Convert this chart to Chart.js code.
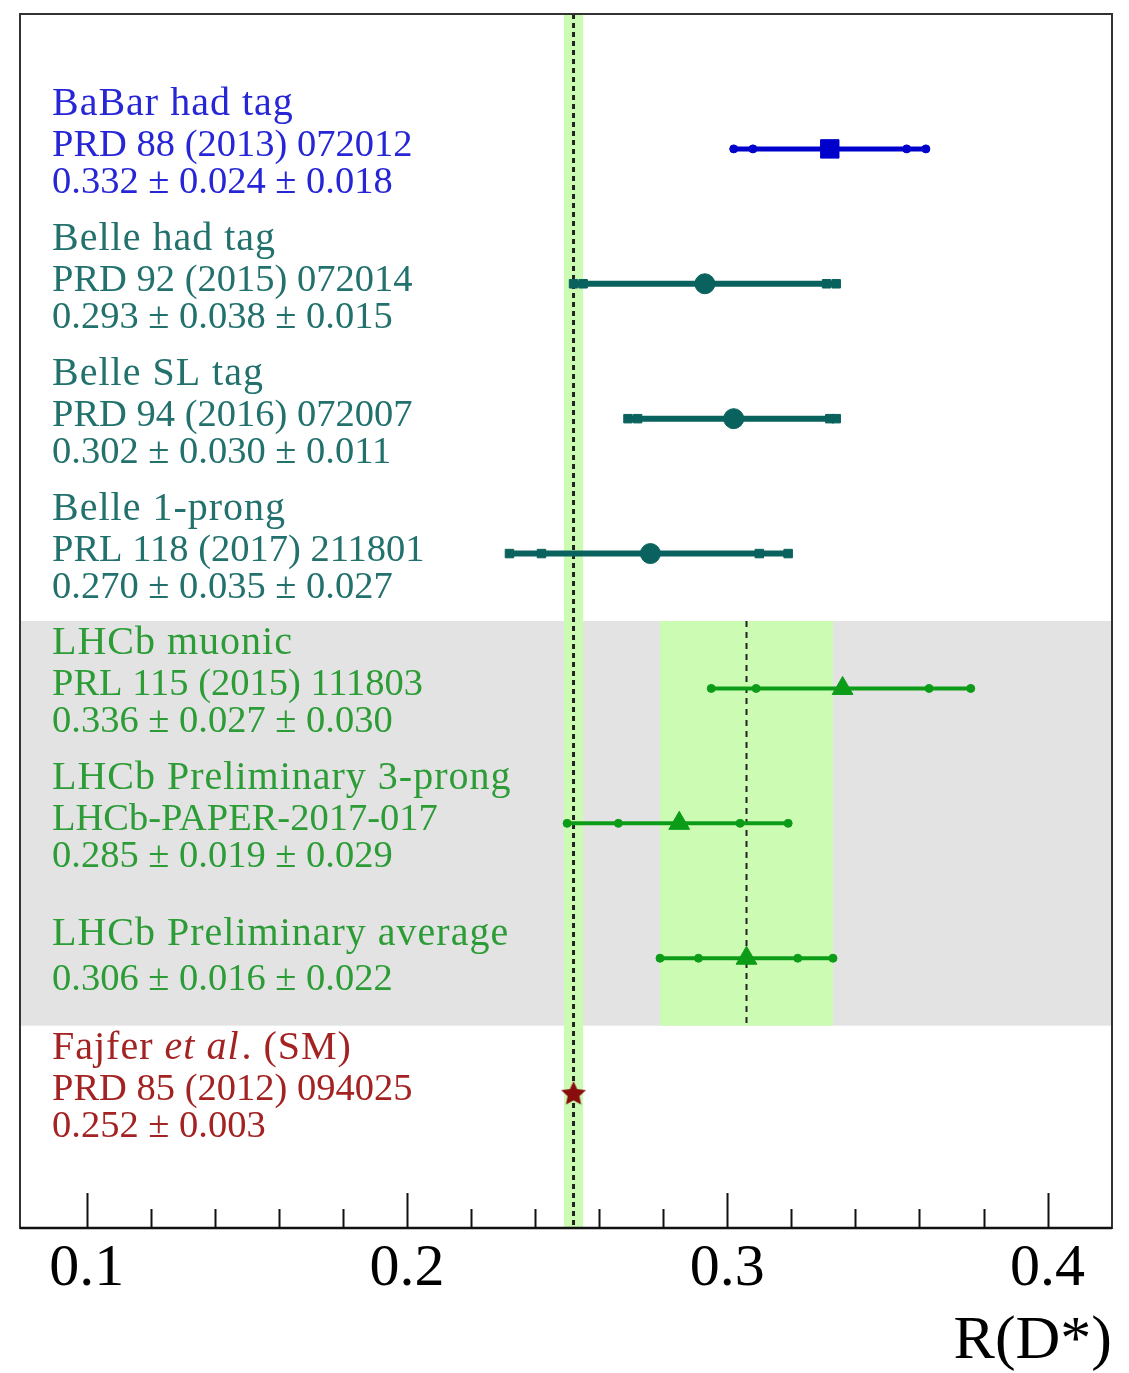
<!DOCTYPE html>
<html>
<head>
<meta charset="utf-8">
<script src="https://cdn.jsdelivr.net/npm/chart.js@4.4.1/dist/chart.umd.min.js"></script>
<style>
  html, body { margin: 0; padding: 0; background: #fff; }
  canvas { display: block; }
</style>
</head>
<body>
<canvas id="rdstarChart" width="1129" height="1373"></canvas>
<script>
// --- data (rows top to bottom) ---
const titles = ['BaBar had tag', 'Belle had tag', 'Belle SL tag', 'Belle 1-prong',
  'LHCb muonic', 'LHCb Preliminary 3-prong', 'LHCb Preliminary average', 'Fajfer et al. (SM)'];
const refs = ['PRD 88 (2013) 072012', 'PRD 92 (2015) 072014', 'PRD 94 (2016) 072007',
  'PRL 118 (2017) 211801', 'PRL 115 (2015) 111803', 'LHCb-PAPER-2017-017', '', 'PRD 85 (2012) 094025'];
const results = ['0.332 ± 0.024 ± 0.018', '0.293 ± 0.038 ± 0.015', '0.302 ± 0.030 ± 0.011',
  '0.270 ± 0.035 ± 0.027', '0.336 ± 0.027 ± 0.030', '0.285 ± 0.019 ± 0.029',
  '0.306 ± 0.016 ± 0.022', '0.252 ± 0.003'];
const rowY = [8, 7, 6, 5, 4, 3, 2, 1];

// plotted central value, statistical and total error bar ends
const central = [0.332, 0.293, 0.302, 0.276, 0.336, 0.285, 0.306, 0.252];
const statLow = [0.308, 0.255, 0.272, 0.242, 0.309, 0.266, 0.291, null];
const statHigh = [0.356, 0.331, 0.332, 0.310, 0.363, 0.304, 0.322, null];
const totLow = [0.302, 0.252, 0.269, 0.232, 0.295, 0.250, 0.279, null];
const totHigh = [0.362, 0.334, 0.334, 0.319, 0.376, 0.319, 0.333, null];

// SM prediction band and LHCb average band
const smValue = 0.252;
const smBand = [0.249, 0.255];
const lhcbAvg = 0.306;
const lhcbBand = [0.279, 0.333];
const lhcbRows = [1.5, 4.5];

const majorTicks = [0.1, 0.2, 0.3, 0.4];
const minorTicks = [0.12, 0.14, 0.16, 0.18, 0.22, 0.24, 0.26, 0.28, 0.32, 0.34, 0.36, 0.38];

// --- style ---
const SERIF = "'Liberation Serif', 'Times New Roman', serif";
const lineColor = ['#0000cc', '#0a625e', '#0a625e', '#0a625e', '#0c9c18', '#0c9c18', '#0c9c18', '#8a0d0d'];
const textColor = ['#2626d6', '#22716d', '#22716d', '#22716d', '#2c9c36', '#2c9c36', '#2c9c36', '#a32222'];
const lineWidth = [5, 6, 6, 6, 4, 4, 4, 0];
const markerStyle = ['rect', 'circle', 'circle', 'circle', 'triangle', 'triangle', 'triangle', null];
const markerRadius = [13, 10, 10, 10, 12, 12, 12, 0];
const endStyle = ['circle', 'rect', 'rect', 'rect', 'circle', 'circle', 'circle', null];
const endRadius = [4, 6, 6, 6, 4, 4, 4, 0];

function makeStar(size, color) {
    const c = document.createElement('canvas');
    c.width = size; c.height = size;
    const g = c.getContext('2d');
    g.fillStyle = color;
    g.beginPath();
    for (let k = 0; k < 10; k++) {
        const r = k % 2 ? size * 0.24 : size * 0.5;
        const a = -Math.PI / 2 + k * Math.PI / 5;
        g.lineTo(size / 2 + r * Math.cos(a), size / 2 + 1 + r * Math.sin(a));
    }
    g.closePath();
    g.fill();
    return c;
}

// build one dataset per row
const datasets = central.map(function(c, i) {
    if (statLow[i] === null) {
        return {
            data: [{ x: c, y: rowY[i] }],
            pointStyle: makeStar(26, lineColor[i]),
            pointRadius: 13,
            showLine: false
        };
    }
    const xs = [totLow[i], statLow[i], c, statHigh[i], totHigh[i]];
    return {
        data: xs.map(x => ({ x: x, y: rowY[i] })),
        showLine: true,
        borderColor: lineColor[i],
        borderWidth: lineWidth[i],
        backgroundColor: lineColor[i],
        pointBackgroundColor: lineColor[i],
        pointBorderColor: lineColor[i],
        pointBorderWidth: 1,
        pointStyle: [endStyle[i], endStyle[i], markerStyle[i], endStyle[i], endStyle[i]],
        pointRadius: [endRadius[i], endRadius[i], markerRadius[i], endRadius[i], endRadius[i]]
    };
});

// bands and dashed reference lines behind the points
const bandsPlugin = {
    id: 'bands',
    beforeDatasetsDraw(chart) {
        const { ctx, chartArea: a, scales: { x, y } } = chart;
        const yTop = y.getPixelForValue(lhcbRows[1]);
        const yBot = y.getPixelForValue(lhcbRows[0]);
        ctx.save();
        ctx.fillStyle = '#e3e3e3';
        ctx.fillRect(a.left, yTop, a.right - a.left, yBot - yTop);
        ctx.fillStyle = '#ccfcb4';
        ctx.fillRect(x.getPixelForValue(lhcbBand[0]), yTop,
            x.getPixelForValue(lhcbBand[1]) - x.getPixelForValue(lhcbBand[0]), yBot - yTop);
        ctx.fillRect(x.getPixelForValue(smBand[0]), a.top,
            x.getPixelForValue(smBand[1]) - x.getPixelForValue(smBand[0]), a.bottom - a.top);

        ctx.strokeStyle = '#222';
        ctx.lineWidth = 3;
        ctx.setLineDash([5, 4]);
        const xs = x.getPixelForValue(smValue);
        ctx.beginPath(); ctx.moveTo(xs, a.top); ctx.lineTo(xs, a.bottom); ctx.stroke();
        ctx.lineWidth = 2;
        ctx.setLineDash([6, 5]);
        const xa = x.getPixelForValue(lhcbAvg);
        ctx.beginPath(); ctx.moveTo(xa, yTop); ctx.lineTo(xa, yBot); ctx.stroke();
        ctx.restore();
    }
};

// frame, inward ticks and the text blocks
const framePlugin = {
    id: 'frameText',
    afterDatasetsDraw(chart) {
        const { ctx, chartArea: a, scales: { x, y } } = chart;
        ctx.save();
        ctx.strokeStyle = '#333';
        ctx.lineWidth = 2;
        ctx.strokeRect(a.left, a.top, a.right - a.left, a.bottom - a.top);
        ctx.strokeStyle = '#111';
        ctx.lineWidth = 2.5;
        ctx.beginPath(); ctx.moveTo(a.left, a.bottom); ctx.lineTo(a.right, a.bottom); ctx.stroke();
        ctx.lineWidth = 2;
        majorTicks.concat(minorTicks).forEach(function(v) {
            const px = Math.round(x.getPixelForValue(v)) + 0.5;
            const len = majorTicks.includes(v) ? 35 : 19;
            ctx.beginPath(); ctx.moveTo(px, a.bottom); ctx.lineTo(px, a.bottom - len); ctx.stroke();
        });

        const tx = a.left + 32;
        ctx.textBaseline = 'alphabetic';
        ctx.textAlign = 'left';
        titles.forEach(function(t, i) {
            const py = y.getPixelForValue(rowY[i]);
            let off = [-34, 7, 44];
            if (i === 6) off = [-13, null, 32];
            ctx.fillStyle = textColor[i];
            ctx.letterSpacing = '1px';
            ctx.font = '40px ' + SERIF;
            if (t.includes('et al')) {
                const parts = t.split('et al');
                let cx = tx;
                ctx.fillText(parts[0], cx, py + off[0]);
                cx += ctx.measureText(parts[0]).width;
                ctx.font = 'italic 40px ' + SERIF;
                ctx.fillText('et al', cx, py + off[0]);
                cx += ctx.measureText('et al').width + 2;
                ctx.font = '40px ' + SERIF;
                ctx.fillText(parts[1], cx, py + off[0]);
            } else {
                ctx.fillText(t, tx, py + off[0]);
            }
            ctx.letterSpacing = '0px';
            ctx.font = '38.5px ' + SERIF;
            if (refs[i]) ctx.fillText(refs[i], tx, py + off[1]);
            ctx.fillText(results[i], tx, py + off[2]);
        });
        ctx.restore();
    }
};

new Chart(document.getElementById('rdstarChart'), {
    type: 'scatter',
    data: { datasets: datasets },
    options: {
        responsive: false,
        animation: false,
        events: [],
        layout: { padding: { left: 20, right: 17, top: 11, bottom: 0 } },
        plugins: { legend: { display: false }, tooltip: { enabled: false } },
        scales: {
            x: {
                type: 'linear',
                min: 0.0792,
                max: 0.4201,
                afterBuildTicks: function(scale) {
                    scale.ticks = majorTicks.map(v => ({ value: v }));
                },
                grid: { display: false, drawTicks: false },
                border: { display: false },
                ticks: {
                    color: '#000',
                    padding: 11,
                    font: { family: SERIF, size: 60, lineHeight: 1 },
                    callback: v => String(v)
                },
                title: {
                    display: true,
                    text: 'R(D*)',
                    align: 'end',
                    color: '#000',
                    font: { family: SERIF, size: 62, lineHeight: 1 },
                    padding: { top: 1, bottom: 0 }
                }
            },
            y: { type: 'linear', min: 0, max: 9, display: false }
        }
    },
    plugins: [bandsPlugin, framePlugin]
});
</script>
</body>
</html>
